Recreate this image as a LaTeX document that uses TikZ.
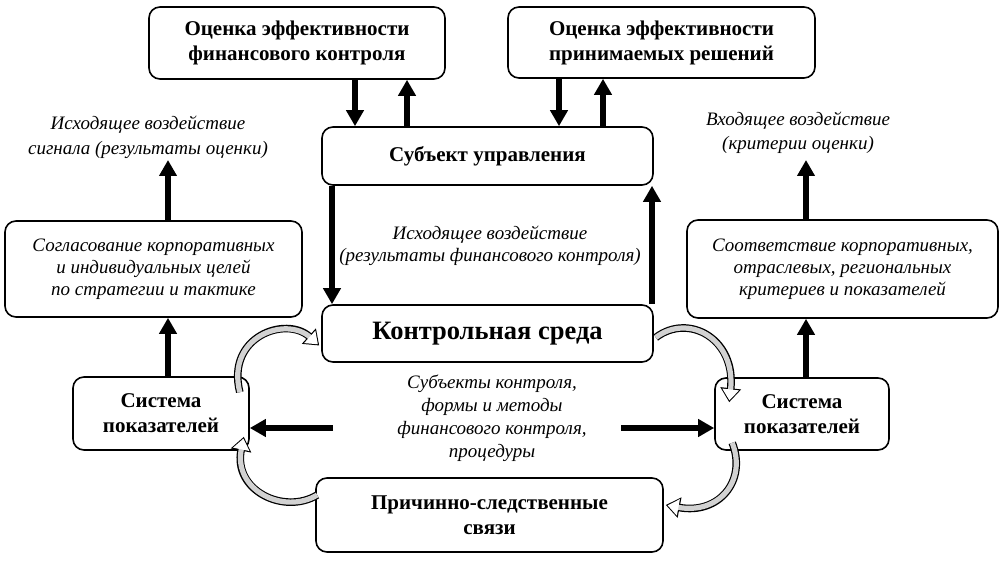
\documentclass[tikz,border=0pt]{standalone}
\usepackage{fontspec}
\setmainfont{Liberation Serif}
\usetikzlibrary{arrows.meta,calc}
\begin{document}
\begin{tikzpicture}[x=1pt,y=-1pt,
 box/.style={draw, line width=1.6pt, rounded corners=11pt, align=center, inner sep=0pt, fill=white},
 btxt/.style={font=\fontsize{21}{25}\selectfont\bfseries},
 itxt/.style={font=\fontsize{19}{22}\selectfont\itshape, align=center},
 barrow/.style={line width=5.5pt, -{Triangle[length=16pt,width=17pt]}},
 carrow/.style={line width=5.2pt, draw=gray!35, -{Triangle[length=11pt,width=16pt,fill=white,color=white]}, shorten >=1.8pt,
   preaction={draw=black, line width=7.6pt, -{Triangle[length=14pt,width=20pt]}, shorten >=0pt}}
]
\useasboundingbox (0,0) rectangle (1004,561);

\node[box, btxt, minimum width=296pt, minimum height=72pt] (topL) at (297,43) {Оценка эффективности\\финансового контроля};
\node[box, btxt, minimum width=307pt, minimum height=71pt] (topR) at (661.5,42.5) {Оценка эффективности\\принимаемых решений};
\node[box, btxt, minimum width=331pt, minimum height=58pt] (subj) at (487.5,156) {Субъект управления};
\node[box, font=\fontsize{26.5}{30}\selectfont\bfseries, minimum width=331pt, minimum height=57pt] (ks) at (487.5,333.5) {Контрольная среда};
\node[box, btxt, minimum width=347pt, minimum height=74pt] (pr) at (489.5,515) {Причинно-следственные\\связи};
\node[box, btxt, minimum width=176pt, minimum height=73pt] (sysL) at (161,413.5) {Система\\показателей};
\node[box, btxt, minimum width=174pt, minimum height=72pt] (sysR) at (802,414) {Система\\показателей};
\node[box, itxt, minimum width=297pt, minimum height=96pt] (goalL) at (153.5,269) {Согласование корпоративных\\и индивидуальных целей\\по стратегии и тактике};
\node[box, itxt, minimum width=311pt, minimum height=98pt] (goalR) at (842.5,269) {Соответствие корпоративных,\\отраслевых, региональных\\критериев и показателей};

\node[itxt, font=\fontsize{19}{25}\selectfont\itshape] (lblL) at (148,137) {Исходящее воздействие\\сигнала (результаты оценки)};
\node[itxt, font=\fontsize{19}{24}\selectfont\itshape] (lblR) at (798,133) {Входящее воздействие\\(критерии оценки)};
\node[itxt] (lblM) at (490,246) {Исходящее воздействие\\(результаты финансового контроля)};
\node[itxt, font=\fontsize{19}{23}\selectfont\itshape] (lblC) at (492,418) {Субъекты контроля,\\формы и методы\\финансового контроля,\\процедуры};

\coordinate (cL) at (168,0);
\draw[barrow] (cL |- sysL.north) -- (cL |- goalL.south);
\draw[barrow] (cL |- goalL.north) -- (168,160);
\coordinate (cR) at (806,0);
\draw[barrow] (cR |- sysR.north) -- (cR |- goalR.south);
\draw[barrow] (cR |- goalR.north) -- (806,160);

\coordinate (c1) at (355,0); \draw[barrow] (c1 |- topL.south) -- (c1 |- subj.north);
\coordinate (c2) at (407,0); \draw[barrow] (c2 |- subj.north) -- (c2 |- topL.south);
\coordinate (c3) at (559,0); \draw[barrow] (c3 |- topR.south) -- (c3 |- subj.north);
\coordinate (c4) at (603,0); \draw[barrow] (c4 |- subj.north) -- (c4 |- topR.south);
\coordinate (c5) at (332,0); \draw[barrow] (c5 |- subj.south) -- (c5 |- ks.north);
\coordinate (c6) at (652,0); \draw[barrow] (c6 |- ks.north) -- (c6 |- subj.south);

\coordinate (hL) at (333,428); \draw[barrow] (hL) -- (hL -| sysL.east);
\coordinate (hR) at (621,428); \draw[barrow] (hR) -- (hR -| sysR.west);

\draw[carrow] ($(sysL.north east)+(-10,16)$) .. controls ($(sysL.north east)+(-24,-40)$) and ($(ks.west)+(-35,-18)$) .. ($(ks.west)+(-2,12)$);
\draw[carrow] ($(ks.east)+(2,4)$) .. controls ($(ks.east)+(35,-21)$) and ($(sysR.north west)+(22,-38)$) .. ($(sysR.north west)+(15,25)$);
\draw[carrow] ($(sysR.south west)+(18,-8)$) .. controls ($(sysR.south west)+(33,30)$) and ($(pr.east)+(55,0)$) .. ($(pr.east)+(2,-10)$);
\draw[carrow] ($(pr.west)+(2,-20)$) .. controls ($(pr.west)+(-31,0)$) and ($(sysL.south east)+(-17,40)$) .. ($(sysL.south east)+(-6,-14)$);
\end{tikzpicture}
\end{document}
